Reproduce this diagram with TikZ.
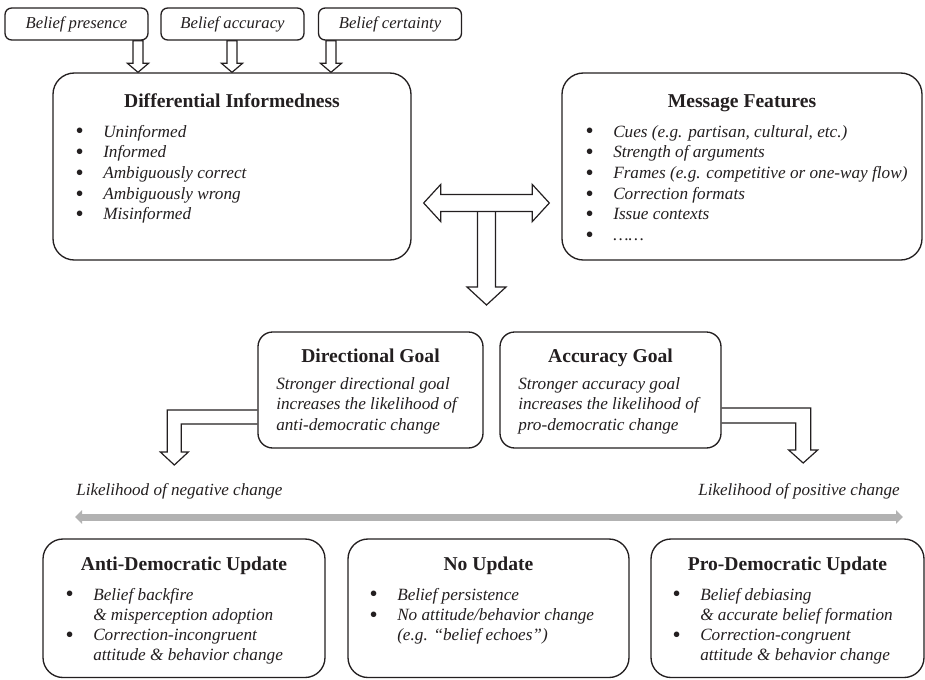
\documentclass[tikz,border=0pt]{standalone}
\usepackage{fontspec}
\setmainfont{Liberation Serif}
\usetikzlibrary{
    arrows.meta,
    calc,
    fit,
    backgrounds
}
\definecolor{ink}{RGB}{35,31,32}
\definecolor{track}{RGB}{178,178,178}
\newcommand{\bul}{\smash{\raisebox{-0.11em}{\scalebox{1.35}{\textbullet}}}}
\tikzset{
    box/.style={
        rectangle,
        draw=ink,
        line width=1pt,
        fill=white,
        inner sep=0pt,
        rounded corners=15pt
    },
    tag/.style={
        box,
        rounded corners=5pt,
        minimum width=107.25pt,
        minimum height=24pt,
        font=\fontsize{12.5}{14}\selectfont\itshape,
        text=ink
    },
    goalbox/.style={box, rounded corners=11pt},
    title/.style={
        anchor=base,
        inner sep=0pt,
        font=\fontsize{14.7}{17}\selectfont\bfseries,
        text=ink
    },
    items/.style={
        anchor=base west,
        inner sep=0pt,
        font=\fontsize{12.9}{#1}\selectfont\itshape,
        text=ink
    },
    items/.default=15.56pt,
    hollow/.style={
        draw=ink,
        line width=0.9pt,
        fill=white,
        line join=miter
    },
    scalearrow/.style={
        draw=track,
        line width=5.25pt,
        {Triangle[length=5.25pt, width=10pt]}-{Triangle[length=5.25pt, width=10pt]}
    },
    annot/.style={
        inner sep=0pt,
        font=\fontsize{12.8}{15}\selectfont\itshape,
        text=ink
    }
}

\begin{document}
\begin{tikzpicture}[x=0.75pt, y=-0.75pt]
\useasboundingbox (0,0) rectangle (925,679);

% === TOP: belief dimensions ===
\node[tag] (pres) at (76.5,24) {Belief presence};
\node[tag] (accu) at (232.5,24) {Belief accuracy};
\node[tag] (cert) at (390,24) {Belief certainty};

% Differential informedness
\node[box, rounded corners=16pt, fit={(53,73) (411,260)}] (info) {};
\node[title] (infot) at (232,107) {Differential Informedness};
\node[items] (infol) at (75,137) {%
    \begin{tabular}[t]{@{}p{21pt}@{}l@{}}
    \bul & Uninformed \\
    \bul & Informed \\
    \bul & Ambiguously correct \\
    \bul & Ambiguously wrong \\
    \bul & Misinformed \\
    \end{tabular}%
};

% Message features
\node[box, rounded corners=16pt, fit={(562,73) (922,260)}] (msg) {};
\node[title] (msgt) at (742,107) {Message Features};
\node[items] (msgl) at (585,137) {%
    \begin{tabular}[t]{@{}p{21pt}@{}l@{}}
    \bul & Cues (e.g. partisan, cultural, etc.) \\
    \bul & Strength of arguments \\
    \bul & Frames (e.g. competitive or one-way flow) \\
    \bul & Correction formats \\
    \bul & Issue contexts \\
    \bul & …… \\
    \end{tabular}%
};

% === MIDDLE: motivated goals ===
\node[goalbox, fit={(258,332) (483,448)}] (dir) {};
\node[title] (dirt) at (370.5,362) {Directional Goal};
\node[items=15.4pt] (dirl) at (276,389) {%
    \begin{tabular}[t]{@{}l@{}}
    Stronger directional goal \\
    increases the likelihood of \\
    anti-democratic change \\
    \end{tabular}%
};

\node[goalbox, fit={(500,332) (721,448)}] (accg) {};
\node[title] (accgt) at (610.5,362) {Accuracy Goal};
\node[items=15.4pt] (accgl) at (518,389) {%
    \begin{tabular}[t]{@{}l@{}}
    Stronger accuracy goal \\
    increases the likelihood of \\
    pro-democratic change \\
    \end{tabular}%
};

% === Likelihood scale ===
\node[annot, anchor=base west] (negl) at (76,495) {Likelihood of negative change};
\node[annot, anchor=base east] (posl) at (900,495) {Likelihood of positive change};
\coordinate (neg) at (75,517);
\coordinate (pos) at (903,517);
\draw[scalearrow] (pos) -- (neg);

% === BOTTOM: updates ===
\node[box, fit={(43,539) (325,677.5)}] (anti) {};
\node[title] (antit) at (184,570) {Anti-Democratic Update};
\node[items=15.2pt] (antil) at (65,600) {%
    \begin{tabular}[t]{@{}p{21pt}@{}l@{}}
    \bul & Belief backfire \\
     & \& misperception adoption \\
    \bul & Correction-incongruent \\
     & attitude \& behavior change \\
    \end{tabular}%
};

\node[box, fit={(348,539) (629,677.5)}] (noup) {};
\node[title] (noupt) at (488.5,570) {No Update};
\node[items=15.2pt] (noupl) at (369,600) {%
    \begin{tabular}[t]{@{}p{21pt}@{}l@{}}
    \bul & Belief persistence \\
    \bul & No attitude/behavior change \\
     & (e.g. ``belief echoes'') \\
    \end{tabular}%
};

\node[box, fit={(651,539) (924,677.5)}] (pro) {};
\node[title] (prot) at (787.5,570) {Pro-Democratic Update};
\node[items=15.2pt] (prol) at (672,600) {%
    \begin{tabular}[t]{@{}p{21pt}@{}l@{}}
    \bul & Belief debiasing \\
     & \& accurate belief formation \\
    \bul & Correction-congruent \\
     & attitude \& behavior change \\
    \end{tabular}%
};

% === Block arrows (behind the boxes) ===
\coordinate (a1) at ($(info.north)+(-94,0)$);
\coordinate (a2) at (info.north);
\coordinate (a3) at ($(info.north)+(99,0)$);
\coordinate (dl) at ($(info.east)+(12,36.5)$);
\coordinate (dr) at ($(msg.west)+(-12,36.5)$);
\coordinate (dm) at ($(dl)!0.5!(dr)$);
\coordinate (dtip) at ($(dm)+(0,102)$);
\coordinate (lb) at ($(dir.west)+(0,27)$);
\coordinate (ltip) at ($(dir.west)+(-83,75)$);
\coordinate (rb) at ($(accg.east)+(0,25.5)$);
\coordinate (rtip) at ($(accg.east)+(81.5,73)$);

\begin{scope}[on background layer]
\foreach \t/\b in {a1/pres, a2/accu, a3/cert} {
    \draw[hollow] (\t) -- ++(-10.5,-9) -- ++(5.5,0)
        -- ($(\t |- \b.south)+(-5,0)$) -- ++(10,0)
        -- ($(\t)+(5,-9)$) -- ++(5.5,0) -- cycle;
}

% stem down to the goals
\draw[hollow] ($(dm)+(-9,0)$) -- ($(dtip)+(-9,-18)$) -- ++(-10.5,0)
    -- (dtip) -- ++(19.5,-18) -- ++(-10.5,0) -- ($(dm)+(9,0)$);

% two-way arrow between informedness and message
\draw[hollow] (dl) -- ++(17,-18.5) -- ++(0,10) -- ($(dr)+(-17,-8.5)$)
    -- ++(0,-10) -- (dr) -- ++(-17,18.5) -- ++(0,-10)
    -- ($(dl)+(17,8.5)$) -- ++(0,10) -- cycle;

% bent arrows to the scale
\draw[hollow] ($(lb)+(0,-7)$) -| ($(ltip)+(-7,-13)$) -- ++(-7,0)
    -- (ltip) -- ++(14,-13) -- ++(-7,0) |- ($(lb)+(0,7)$);
\draw[hollow] ($(rb)+(0,-7.5)$) -| ($(rtip)+(7.5,-13)$) -- ++(7,0)
    -- (rtip) -- ++(-14.5,-13) -- ++(7,0) |- ($(rb)+(0,7.5)$);
\end{scope}

\end{tikzpicture}
\end{document}
